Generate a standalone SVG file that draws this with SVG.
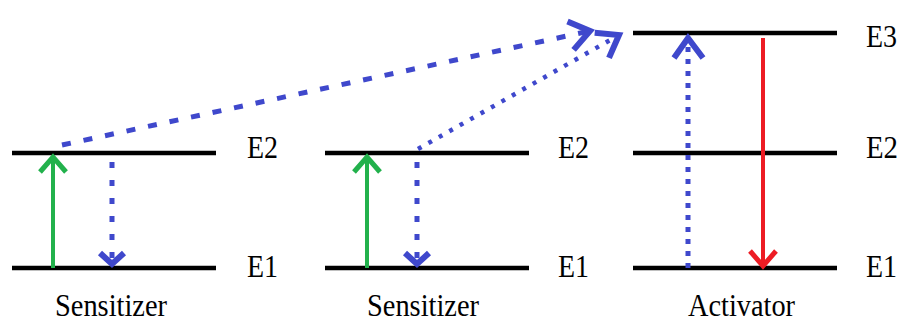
<svg xmlns="http://www.w3.org/2000/svg" width="903" height="323" viewBox="0 0 903 323">
<style>
.lvl{stroke:#000;stroke-width:4.5;fill:none}
text{font-family:'Liberation Serif','Times New Roman',serif;font-size:31px;fill:#000}
.grn{stroke:#22b14c;stroke-width:4;fill:none}
.red{stroke:#ed1c24;stroke-width:4;fill:none}
.blu{stroke:#3f48cc;stroke-width:5;fill:none}
.dot1{stroke-dasharray:6 12}
.dot2{stroke-dasharray:5 7}
.dash1{stroke-dasharray:9 13}
.dash2{stroke-dasharray:4 8;stroke-width:4.5}
</style>
<defs>
<marker id="hg" markerUnits="userSpaceOnUse" markerWidth="40" markerHeight="40" refX="20" refY="20" orient="auto" viewBox="0 0 40 40"><path d="M5,7 L20,20 L5,33" fill="none" stroke="#22b14c" stroke-width="5"/></marker>
<marker id="hr" markerUnits="userSpaceOnUse" markerWidth="40" markerHeight="40" refX="20" refY="20" orient="auto" viewBox="0 0 40 40"><path d="M5,7 L20,20 L5,33" fill="none" stroke="#ed1c24" stroke-width="5"/></marker>
<marker id="hb" markerUnits="userSpaceOnUse" markerWidth="40" markerHeight="40" refX="20" refY="20" orient="auto" viewBox="0 0 40 40"><path d="M9,8 L20,20 L9,32" fill="none" stroke="#3f48cc" stroke-width="6"/></marker>
<marker id="hbl" markerUnits="userSpaceOnUse" markerWidth="50" markerHeight="50" refX="25" refY="25" orient="auto" viewBox="0 0 50 50"><path d="M5,11 L25,25 L5,40" fill="none" stroke="#3f48cc" stroke-width="6"/></marker>
</defs>
<g id="sensitizer1">
<line class="lvl" x1="12" y1="153" x2="216" y2="153"/>
<line class="lvl" x1="12" y1="268" x2="216" y2="268"/>
<text x="247" y="158" textLength="31" lengthAdjust="spacingAndGlyphs">E2</text>
<text x="247" y="277" textLength="31" lengthAdjust="spacingAndGlyphs">E1</text>
<text x="55" y="316" textLength="112" lengthAdjust="spacingAndGlyphs">Sensitizer</text>
</g>
<g id="sensitizer2">
<line class="lvl" x1="325" y1="153" x2="529" y2="153"/>
<line class="lvl" x1="325" y1="268" x2="529" y2="268"/>
<text x="558" y="158" textLength="31" lengthAdjust="spacingAndGlyphs">E2</text>
<text x="558" y="277" textLength="31" lengthAdjust="spacingAndGlyphs">E1</text>
<text x="367" y="316" textLength="112" lengthAdjust="spacingAndGlyphs">Sensitizer</text>
</g>
<g id="activator">
<line class="lvl" x1="633" y1="33" x2="837" y2="33"/>
<line class="lvl" x1="633" y1="153" x2="837" y2="153"/>
<line class="lvl" x1="633" y1="268" x2="837" y2="268"/>
<text x="866" y="47" textLength="31" lengthAdjust="spacingAndGlyphs">E3</text>
<text x="866" y="158" textLength="32" lengthAdjust="spacingAndGlyphs">E2</text>
<text x="866" y="277" textLength="31" lengthAdjust="spacingAndGlyphs">E1</text>
<text x="688" y="316" textLength="107" lengthAdjust="spacingAndGlyphs">Activator</text>
</g>
<g id="connectors">
<line class="grn" x1="53" y1="268" x2="53" y2="157" marker-end="url(#hg)"/>
<line class="grn" x1="367" y1="268" x2="367" y2="157" marker-end="url(#hg)"/>
<line class="blu dot1" x1="112" y1="162" x2="112" y2="264" marker-end="url(#hb)"/>
<line class="blu dot1" x1="417" y1="162" x2="417" y2="264" marker-end="url(#hb)"/>
<line class="blu dot2" x1="688" y1="268" x2="688" y2="38" marker-end="url(#hbl)"/>
<line class="red" x1="763" y1="38" x2="763" y2="266" marker-end="url(#hr)"/>
<line class="blu dash1" x1="62" y1="145" x2="590" y2="31" marker-end="url(#hbl)"/>
<line class="blu dash2" x1="418" y1="149" x2="619" y2="35" marker-end="url(#hbl)"/>
</g>
</svg>
